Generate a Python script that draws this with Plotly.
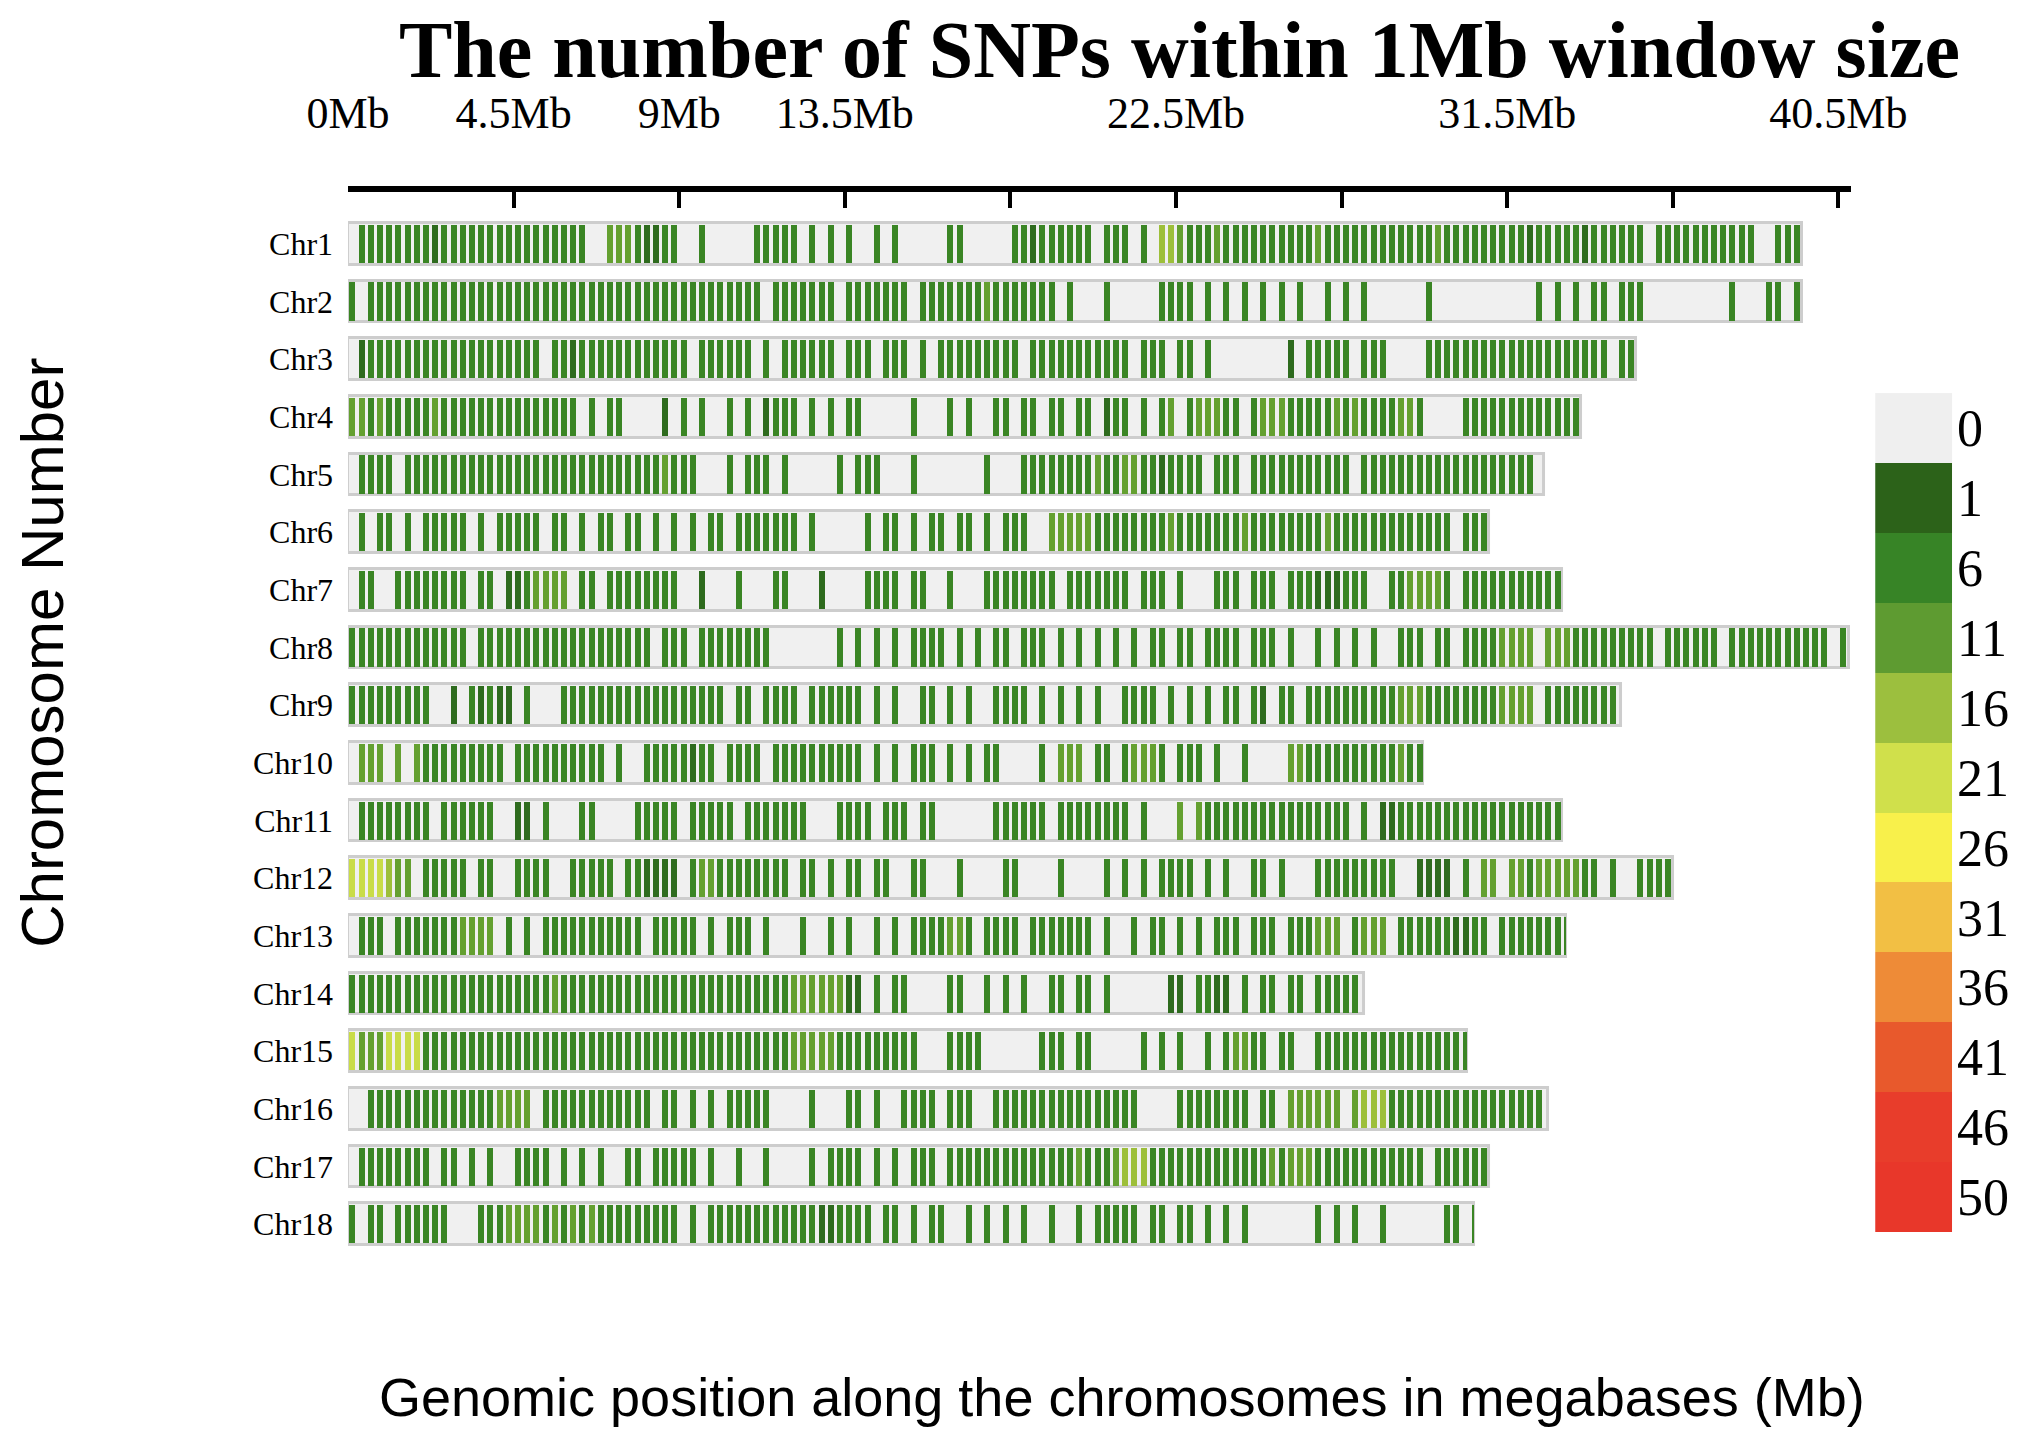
import plotly.graph_objects as go

# chromosome names and lengths (Mb)
chroms = ["Chr%d" % i for i in range(1, 19)]
lengths = [39.5, 39.5, 35.0, 33.5, 32.5, 31.0, 33.0, 40.8, 34.6,
           29.2, 33.0, 36.0, 33.1, 27.6, 30.4, 32.6, 31.0, 30.6]

# SNP density class per 0.25 Mb bin ('.' none, 1..5 = 1-5, 6-10, 11-15, 16-20, 21-25 SNPs)
chr1 = ".222 2222 2122 2222 2222 2222 22.. 3332 1122 ..2. .... 2222 2.2. 2.2. .2.2 .... .22. .... 2212 2222 2.22 2.2. 4432 2232 2222 2222 2322 2222 2222 2232 2222 2222 1222 2212 2222 2.22 2222 2222 2..2 22"
chr2 = "2.22 2222 2222 2222 2222 2222 2222 2222 2222 2222 2222 2.22 2222 2.22 2222 2.22 2222 2322 2222 2.2. ..2. .... 2222 .2.2 .2.2 .2.2 ..2. 2.2. .... .2.. .... .... .2.2 .2.2 2.22 2... .... ..2. ..22 .2"
chr3 = ".122 2222 2222 2222 2222 2.22 1222 2222 2222 2.22 2222 .2.2 2222 2.22 2.22 2.2. 2222 2222 2.22 2222 2222 2.22 2.22 .2.. .... ..1. 2222 2.22 2... .222 2222 2222 2222 2222 2.22"
chr4 = "3323 2222 2322 2222 2222 2222 2.2. 22.. ..1. 2.2. .2.2 .122 2.2. 2.22 .... .2.. .2.2 ..22 .22. 22.2 2.12 2.2. 23.2 3332 2.23 3322 2223 2322 2233 2... .222 2222 2222 22"
chr5 = ".222 2.22 2222 2222 2222 2222 2222 2222 2232 22.. .2.2 22.2 .... .2.2 22.. .2.. .... .2.. .222 2222 2322 3322 1222 2.22 2.22 2222 2222 2.22 2222 2222 2222 2222 2."
chr6 = ".2.2 2.2. 2222 2.2. 2222 2.22 .2.2 2.22 .2.2 .2.2 2.22 2222 2.2. .... 2.22 .2.2 2.22 .2.2 22.. 3333 3222 2222 2322 2222 2322 2222 2232 2222 2222 2222 .222"
chr7 = ".22. .222 2222 2.22 .112 3333 .22. 2222 2222 ..1. ..2. ..22 ...1 .... 2222 .22. .2.. .222 2222 2.22 2222 2.22 2.2. ..22 2.22 2.22 2111 222. .223 3332 .222 2222 2222"
chr8 = "2222 2222 2222 2.22 2222 2222 2222 2222 2.22 2.22 2222 22.. .... .2.2 .2.2 .222 2.2. 2.22 .222 .2.2 .2.2 .2.2 2.22 .222 2.22 2.2. .2.2 .2.2 ..22 2.22 .222 2333 3.33 3222 2222 22.2 2222 2.22 2222 2222 2.2"
chr9 = "2222 2222 2..1 .212 11.2 ...2 2222 2222 2222 2222 2.22 .222 2.22 2222 .2.2 ..22 .2.2 ..22 22.2 .2.2 .2.. 2222 .2.2 .2.2 2.21 .22. 2222 2222 2233 3222 2222 2333 3.22 2222 22"
chr10 = ".333 .3.3 2222 2222 2.22 2222 2222 .2.. 2222 2122 .222 2.22 2222 2222 .2.2 .222 .2.2 .22. ...2 .333 .22. 2333 2.22 2.2. .2.. ..33 2222 2222 2232 2"
chr11 = ".222 2222 2.22 2222 ..11 .2.. .22. ...2 2222 .222 22.2 2222 22.. .222 2.22 2.22 .... ..22 2222 .222 2222 2.2. ..3. 3222 2222 2222 2222 2.2. 1122 2222 2222 2222 2222"
chr12 = "5555 433. 2222 2.22 ..22 22.. 2222 2.22 1111 .233 2222 2222 .22. 2.22 .22. .22. ..2. ...2 2... .2.. ..2. 2.2. 2222 .2.2 ..22 .2.. .222 2222 22.. 1111 .2.3 3.33 2333 3322 .2.. 2222"
chr13 = ".222 .222 2222 3333 .2.2 .222 2222 2222 .222 22.2 .222 .2.. .2.. 2.2. .2.2 .222 2332 .222 2.22 2222 2.2. .2.2 2.2. 2.22 2.22 2.22 2333 .233 3.22 2222 1122 .222 2222 2"
chr14 = "2222 2222 2222 2222 2222 2232 2222 2222 2222 2222 2222 2222 3333 3311 .2.2 2... .22. .2.2 .2.. 22.2 2.2. .... .11. 2211 .2.2 2.22 .222 22"
chr15 = "5333 5555 2222 2222 2222 2222 2222 2222 2222 2222 2222 2222 3333 3222 2222 22.. .222 2... ...2 22.2 2... ..2. 2.2. .2.2 3322 .22. .222 2222 2222 2222 22"
chr16 = "..22 2222 2222 2222 3333 .222 2222 2222 2.22 .2.2 .222 22.. ..2. ..22 .2.. 2222 .222 ..22 2222 2222 2222 22.. ..22 2222 22.2 2.33 3333 .344 4222 2222 2222 2222 22"
chr17 = ".222 2222 2.22 .2.2 ..22 22.2 .2.2 ..22 .222 22.2 ..2. .2.. ..2. 2222 .2.2 .222 .222 2222 2222 2223 2223 4442 2222 2222 2222 3233 3222 2222 2222 2.22 2222"
chr18 = "2.22 .222 222. ..22 2333 3232 3232 2222 2222 .2.2 2222 2222 2221 1222 2.22 .2.2 2..2 .2.2 .2.. 2..2 .222 22.2 2.22 .2.2 .2.. .... .2.2 .2.. 2... ...2 2.2"

patterns = [chr1, chr2, chr3, chr4, chr5, chr6, chr7, chr8, chr9,
            chr10, chr11, chr12, chr13, chr14, chr15, chr16, chr17, chr18]

# legend classes
legend_labels = ["0", "1", "6", "11", "16", "21", "26", "31", "36", "41", "46", "50"]
legend_colors = ["#efefef", "#2c6219", "#378426", "#5e9b31", "#9cbf3e", "#d0e04b",
                 "#f8f04b", "#f2bf44", "#ee8b37", "#e8592c", "#e83d2b", "#e8372a"]

class_colors = {"1": "#2e6b1e", "2": "#3a8524", "3": "#64a030", "4": "#9dbf3a", "5": "#c9dc48"}

BIN = 0.25
STRIPE = 0.16

fig = go.Figure()

# chromosome backgrounds
fig.add_trace(go.Bar(
    x=lengths, y=list(range(1, 19)), base=0, orientation="h", width=0.72,
    marker=dict(color="#f0f0f0", line=dict(color="#cdcdcd", width=3)),
    hoverinfo="skip", showlegend=False
))

for code, col in class_colors.items():
    xs, ys, bs = [], [], []
    for i, pat in enumerate(patterns):
        p = pat.replace(" ", "")
        for j, ch in enumerate(p):
            start = j * BIN + 0.04
            if ch == code and start < lengths[i]:
                xs.append(min(STRIPE, lengths[i] - start))
                bs.append(start)
                ys.append(i + 1)
    fig.add_trace(go.Bar(
        x=xs, y=ys, base=bs, orientation="h", width=0.66,
        marker=dict(color=col, line=dict(width=0)),
        hoverinfo="skip", showlegend=False
    ))

# legend as discrete heatmap
n = len(legend_colors)
cscale = []
for k, c in enumerate(legend_colors):
    cscale.append([k / n, c])
    cscale.append([(k + 1) / n, c])
fig.add_trace(go.Heatmap(
    z=[[k] for k in range(n)], y=list(range(n)), x=[0],
    zmin=0, zmax=n, colorscale=cscale, showscale=False,
    xaxis="x2", yaxis="y2", hoverinfo="skip"
))

serif = "Liberation Serif"

fig.update_layout(
    width=2024, height=1432,
    margin=dict(l=0, r=0, t=0, b=0),
    paper_bgcolor="white", plot_bgcolor="white",
    barmode="overlay", bargap=0,
    xaxis=dict(
        domain=[0.168, 0.9107], range=[0, 40.85],
        side="top", anchor="free", position=0.8736, automargin=False,
        showline=True, linecolor="black", linewidth=6,
        ticks="inside", ticklen=16, tickwidth=4, tickcolor="black",
        tickvals=[0, 4.5, 9, 13.5, 18, 22.5, 27, 31.5, 36, 40.5],
        ticktext=["0Mb", "4.5Mb", "9Mb", "13.5Mb", "", "22.5Mb", "", "31.5Mb", "", "40.5Mb"],
        ticklabelstandoff=40,
        tickfont=dict(family=serif, size=44, color="black"),
        showgrid=False, zeroline=False
    ),
    yaxis=dict(
        domain=[0.1306, 0.8555], range=[18.5, 0.5], automargin=False,
        tickvals=list(range(1, 19)), ticktext=chroms,
        tickfont=dict(family=serif, size=32, color="black"),
        ticklabelstandoff=14,
        showgrid=False, zeroline=False, showline=False
    ),
    xaxis2=dict(domain=[0.9225, 0.9605], anchor="y2", visible=False, range=[-0.5, 0.5],
                automargin=False),
    yaxis2=dict(
        domain=[0.1453, 0.7311], anchor="x2", range=[n - 0.5, -0.5], automargin=False,
        side="right", tickvals=list(range(n)), ticktext=legend_labels,
        tickfont=dict(family=serif, size=52, color="black"),
        ticklabelstandoff=4,
        showgrid=False, zeroline=False, showline=False
    ),
    annotations=[
        dict(text="<b>The number of SNPs within 1Mb window size</b>", xref="paper", yref="paper",
             x=0.579, y=0.971, showarrow=False, xanchor="center", yanchor="middle",
             font=dict(family=serif, size=80, color="black")),
        dict(text="Chromosome Number", xref="paper", yref="paper", x=0.017, y=0.55,
             textangle=-90, showarrow=False, xanchor="center", yanchor="middle",
             font=dict(family="Liberation Sans", size=60, color="black")),
        dict(text="Genomic position along the chromosomes in megabases (Mb)", xref="paper", yref="paper",
             x=0.5504, y=0.03, showarrow=False, xanchor="center", yanchor="middle",
             font=dict(family="Liberation Sans", size=54, color="black")),
    ]
)

fig.write_html("out.html")
